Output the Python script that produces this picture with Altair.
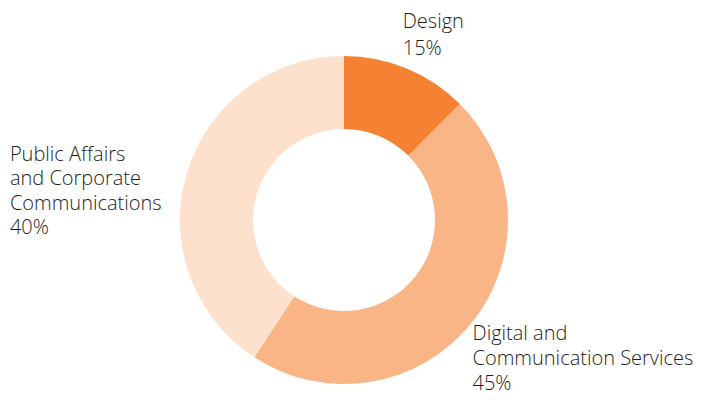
import math
import altair as alt
import pandas as pd

# ---- data ----
categories = ["Design", "Digital and Communication Services", "Public Affairs and Corporate Communications"]
label_text = ["Design\n15%", "Digital and\nCommunication Services\n45%", "Public Affairs\nand Corporate\nCommunications\n40%"]
shares = [12.5, 46.7, 40.8]          # slice sizes as drawn
colors = ["#F58233", "#F9B585", "#FDE1CC"]

df = pd.DataFrame({
    "category": categories,
    "label": label_text,
    "share": shares,
    "order": list(range(len(categories))),
})

CX, CY = 336, 212
OUTER, INNER = 164, 91
LABEL_R = 190
FONT = "Open Sans"

color_scale = alt.Scale(domain=categories, range=colors)

base = alt.Chart(df)

arcs = base.mark_arc(outerRadius=OUTER, innerRadius=INNER, stroke=None).encode(
    theta=alt.Theta("share:Q", stack=True),
    order=alt.Order("order:Q"),
    color=alt.Color("category:N", scale=color_scale, legend=None),
    x=alt.value(CX),
    y=alt.value(CY),
)

# label styles: (dx, dy, lineHeight) relative to the polar anchor at the slice midpoint
label_style = {
    categories[0]: (-14, -22, 27),
    categories[1]: (-19, -6, 25),
    categories[2]: (-152, -11, 24.5),
}

layers = [arcs]
for cat in categories:
    dx, dy, lh = label_style[cat]
    t = base.mark_text(
        radius=LABEL_R, align="left", baseline="middle", lineBreak="\n",
        font=FONT, fontSize=20, fontWeight=300, lineHeight=lh,
        color="#1E1E1E", dx=dx, dy=dy,
    ).encode(
        theta=alt.Theta("share:Q", stack=True),
        order=alt.Order("order:Q"),
        text=alt.Text("label:N"),
        x=alt.value(CX),
        y=alt.value(CY),
        opacity=alt.condition(alt.datum.category == cat, alt.value(1), alt.value(0)),
    )
    layers.append(t)

chart = alt.layer(*layers).properties(
    width=688, height=389, padding=0,
    autosize=alt.AutoSizeParams(type="none"),
).configure_view(stroke=None)

chart.save("out.html", embed_options={"renderer": "svg", "actions": False})
